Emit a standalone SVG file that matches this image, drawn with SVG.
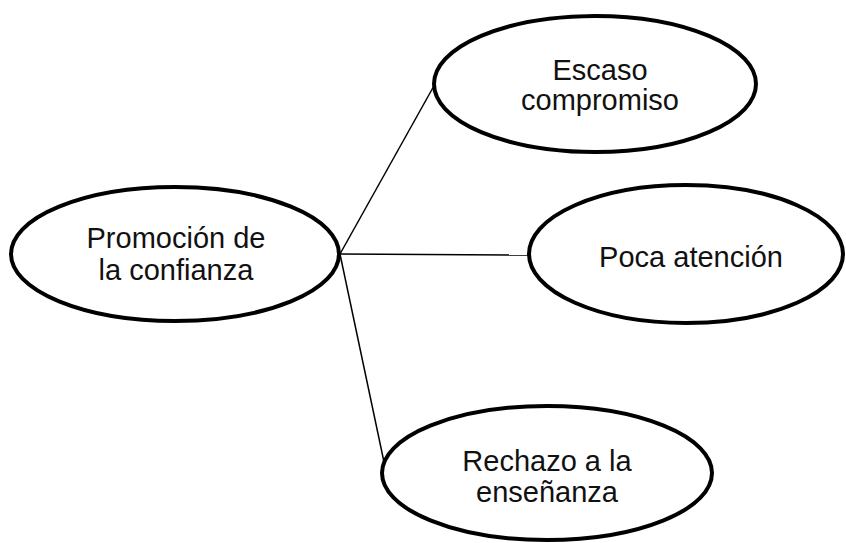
<svg xmlns="http://www.w3.org/2000/svg" width="846" height="543" viewBox="0 0 846 543">
<style>
.n{fill:#fff;stroke:#000;stroke-width:4}
.t{font-family:"Liberation Sans",Arial,sans-serif;font-size:29px;fill:#111;text-anchor:middle}
.c line{stroke:#000;stroke-width:1.5}
</style>
<rect width="846" height="543" fill="#fff"/>
<g class="c" id="connectors">
<line x1="340" y1="254" x2="435" y2="84"/>
<line x1="340" y1="254" x2="529" y2="255"/>
<line x1="340" y1="254" x2="384" y2="462"/>
</g>
<g id="promocion">
<ellipse class="n" cx="175" cy="254" rx="164" ry="67"/>
<text class="t" x="176" y="248">Promoción de</text>
<text class="t" x="176" y="280">la confianza</text>
</g>
<g id="escaso">
<ellipse class="n" cx="595" cy="84" rx="161" ry="68"/>
<text class="t" x="600" y="80">Escaso</text>
<text class="t" x="600" y="110">compromiso</text>
</g>
<g id="poca">
<ellipse class="n" cx="686" cy="254" rx="157" ry="69"/>
<text class="t" x="691" y="267">Poca atención</text>
</g>
<g id="rechazo">
<ellipse class="n" cx="547" cy="473" rx="165" ry="67"/>
<text class="t" x="547" y="471">Rechazo a la</text>
<text class="t" x="547" y="502">enseñanza</text>
</g>
</svg>
